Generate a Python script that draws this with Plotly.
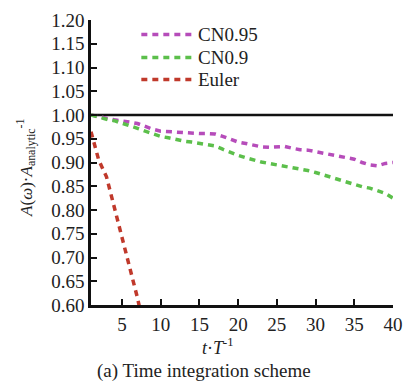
import plotly.graph_objects as go

# time axis (t/T) and amplitude ratios A(w)/A_analytic
t_cn = list(range(1, 41))
cn095 = [1.000, 0.996, 0.993, 0.990, 0.988, 0.985, 0.982, 0.976, 0.970, 0.966,
         0.965, 0.963, 0.962, 0.961, 0.961, 0.961, 0.960, 0.955, 0.948, 0.943,
         0.940, 0.936, 0.933, 0.932, 0.933, 0.934, 0.930, 0.927, 0.926, 0.923,
         0.920, 0.917, 0.914, 0.911, 0.907, 0.900, 0.895, 0.893, 0.898, 0.900]
cn09 = [1.000, 0.995, 0.991, 0.988, 0.983, 0.977, 0.972, 0.966, 0.960, 0.955,
        0.952, 0.948, 0.945, 0.943, 0.940, 0.938, 0.935, 0.928, 0.921, 0.915,
        0.910, 0.905, 0.901, 0.898, 0.895, 0.893, 0.890, 0.886, 0.883, 0.879,
        0.874, 0.869, 0.863, 0.858, 0.853, 0.849, 0.846, 0.841, 0.835, 0.825]
t_euler = [1, 2, 3, 4, 5, 6, 7, 8]
euler = [0.965, 0.905, 0.870, 0.805, 0.745, 0.680, 0.615, 0.540]
t_ref = [1, 40]
ref = [1.0, 1.0]

series_names = ["CN0.95", "CN0.9", "Euler"]
series_colors = ["#B64CBA", "#5CBF4B", "#C0392B"]

x_ticks = [5, 10, 15, 20, 25, 30, 35, 40]
y_ticks = [0.60, 0.65, 0.70, 0.75, 0.80, 0.85, 0.90, 0.95, 1.00, 1.05, 1.10, 1.15, 1.20]

FONT = "Liberation Serif"
TXT = "#222222"
DASH = "6px,5px"

fig = go.Figure()
fig.add_trace(go.Scatter(x=t_ref, y=ref, mode="lines",
                         line=dict(color="#111111", width=2.5), showlegend=False))
for xs, ys, name, col in [(t_cn, cn095, series_names[0], series_colors[0]),
                          (t_cn, cn09, series_names[1], series_colors[1]),
                          (t_euler, euler, series_names[2], series_colors[2])]:
    fig.add_trace(go.Scatter(x=xs, y=ys, mode="lines", name=name,
                             line=dict(color=col, width=3.5, dash=DASH),
                             showlegend=False))

# legend drawn as dashed sample lines with labels
leg_y = [35, 58, 80]
for name, col, yy in zip(series_names, series_colors, leg_y):
    fig.add_shape(type="line", xref="paper", yref="paper",
                  x0=(143 - 91) / 312, x1=(195 - 91) / 312,
                  y0=(305 - yy) / 284.5, y1=(305 - yy) / 284.5,
                  line=dict(color=col, width=3.5, dash=DASH))
    fig.add_annotation(xref="paper", yref="paper", x=(199 - 91) / 312,
                       y=(305 - yy) / 284.5, text=name, showarrow=False,
                       xanchor="left", yanchor="middle",
                       font=dict(family=FONT, size=19, color=TXT))

# axis titles and caption
fig.add_annotation(xref="paper", yref="paper", x=(24 - 91) / 312, y=(305 - 168) / 284.5,
                   text="<i>A</i>(<i>ω</i>)·<i>A</i><sub>analytic</sub><sup>-1</sup>",
                   textangle=-90, showarrow=False, xanchor="center", yanchor="middle",
                   font=dict(family=FONT, size=17, color=TXT))
fig.add_annotation(xref="paper", yref="paper", x=(222 - 91) / 312, y=(305 - 346) / 284.5,
                   text="<i>t</i>·<i>T</i><sup>-1</sup>", showarrow=False,
                   xanchor="center", yanchor="middle",
                   font=dict(family=FONT, size=18, color=TXT))
fig.add_annotation(xref="paper", yref="paper", x=(208 - 91) / 312, y=(305 - 371) / 284.5,
                   text="(a) Time integration scheme", showarrow=False,
                   xanchor="center", yanchor="middle",
                   font=dict(family=FONT, size=19, color=TXT))

fig.update_xaxes(range=[1, 40], tickvals=x_ticks, ticks="inside", ticklen=6,
                 tickwidth=2, tickcolor="#111111", showline=True, linecolor="#111111",
                 linewidth=2.5, showgrid=False, zeroline=False,
                 tickfont=dict(family=FONT, size=19, color=TXT))
fig.update_yaxes(range=[0.6, 1.2], tickvals=y_ticks, tickformat=".2f", ticks="inside",
                 ticklen=6, tickwidth=2, tickcolor="#111111", showline=True,
                 linecolor="#111111", linewidth=2.5, showgrid=False, zeroline=False,
                 tickfont=dict(family=FONT, size=19, color=TXT))

fig.update_layout(width=413, height=387, margin=dict(l=91, r=10, t=20, b=82),
                  plot_bgcolor="white", paper_bgcolor="white",
                  font=dict(family=FONT, color=TXT))

fig.write_html("out.html")
